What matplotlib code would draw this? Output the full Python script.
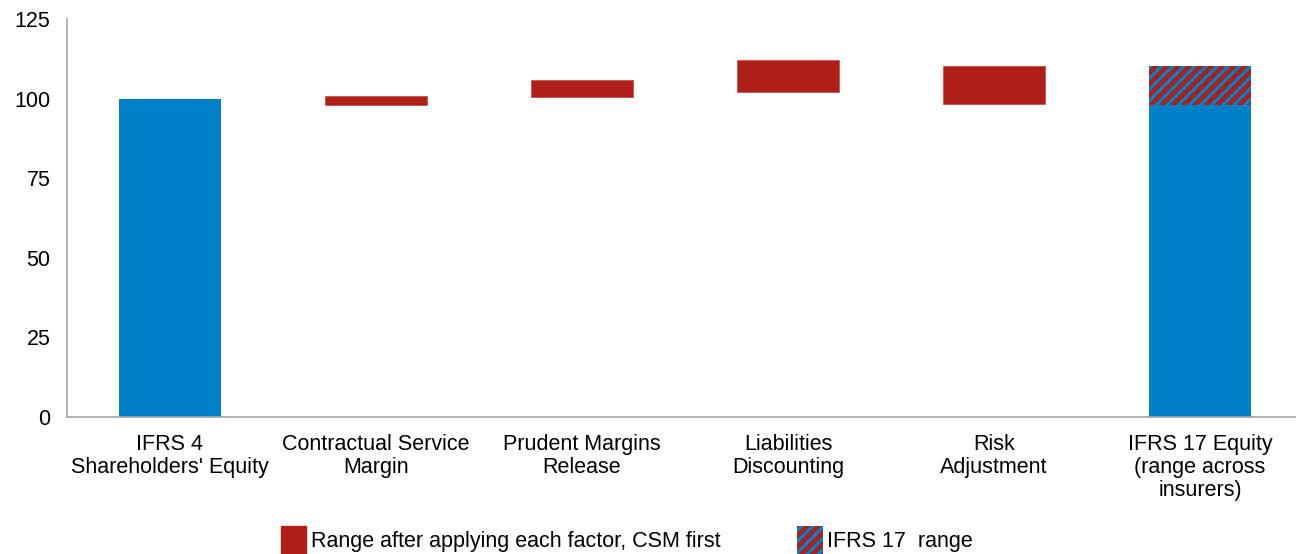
import matplotlib
matplotlib.use("Agg")
import matplotlib.pyplot as plt
from matplotlib.patches import Patch

plt.rcParams['font.family'] = ['Liberation Sans', 'DejaVu Sans']
plt.rcParams['hatch.linewidth'] = 3.3

categories = ["IFRS 4\nShareholders' Equity", "Contractual Service\nMargin",
              "Prudent Margins\nRelease", "Liabilities\nDiscounting",
              "Risk\nAdjustment", "IFRS 17 Equity\n(range across\ninsurers)"]
start_value = 100.0
range_low = [None, 98.0, 100.5, 102.1, 98.3, None]
range_high = [None, 100.8, 105.8, 112.1, 110.2, None]
ifrs17_low = 98.0
ifrs17_high = 110.2
yticks = [0, 25, 50, 75, 100, 125]

blue = '#0080C6'
red = '#AE2017'

fig = plt.figure(figsize=(12.96, 5.54), dpi=100)
ax = fig.add_axes([67/1296, 1 - 417/554, 1236/1296, 398/554])

x = list(range(len(categories)))
w = 0.495
ax.bar(x[0], start_value, width=w, color=blue)
for i in range(1, 5):
    ax.bar(x[i], range_high[i] - range_low[i], bottom=range_low[i], width=w,
           color=red, edgecolor='#C9544D', linewidth=0.6)
ax.bar(x[5], ifrs17_low, width=w, color=blue)
ax.bar(x[5], ifrs17_high - ifrs17_low, bottom=ifrs17_low, width=w,
       facecolor=blue, edgecolor=red, hatch='///', linewidth=0)

ax.set_xlim(-0.5, len(categories) - 0.5)
ax.set_ylim(0, 125)
ax.set_yticks(yticks)
ax.set_xticks(x)
ax.set_xticklabels(categories, fontsize=15.5, linespacing=1.12)
ax.tick_params(axis='y', labelsize=15.5, length=0, pad=12)
ax.tick_params(axis='x', length=0, pad=12)
for s in ['top', 'right']:
    ax.spines[s].set_visible(False)
for s in ['left', 'bottom']:
    ax.spines[s].set_color('#A6A6A6')
    ax.spines[s].set_linewidth(1.2)

handles = [Patch(facecolor=red, edgecolor=red),
           Patch(facecolor=blue, edgecolor=red, hatch='///', linewidth=0)]
labels = ['Range after applying each factor, CSM first', 'IFRS 17  range']
fig.legend(handles, labels, loc='lower center', bbox_to_anchor=(0.4835, -0.035),
           ncol=2, frameon=False, fontsize=15.5, handlelength=1.2,
           handleheight=1.6, handletextpad=0.2, columnspacing=3.55)

fig.savefig('out.png', dpi=100)
